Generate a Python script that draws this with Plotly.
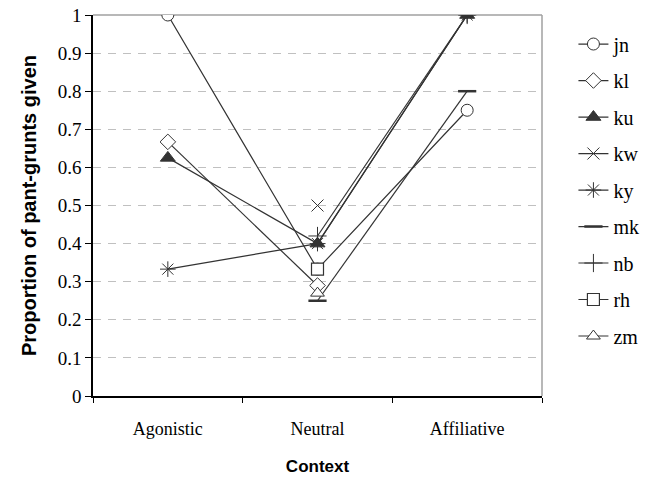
import plotly.graph_objects as go

categories = ["Agonistic", "Neutral", "Affiliative"]
names = ["jn", "kl", "ku", "kw", "ky", "mk", "nb", "rh", "zm"]
jn = [1.0, 0.333, 0.75]
kl = [0.667, 0.29, None]
ku = [0.625, 0.4, 1.0]
kw = [None, 0.5, None]
ky = [0.333, 0.4, 1.0]
mk = [None, 0.25, 0.8]
nb = [None, 0.42, 1.0]
rh = [None, 0.333, None]
zm = [None, 0.27, None]
series = [jn, kl, ku, kw, ky, mk, nb, rh, zm]

ytick_vals = [0, 0.1, 0.2, 0.3, 0.4, 0.5, 0.6, 0.7, 0.8, 0.9, 1]
ytick_text = ["0", "0.1", "0.2", "0.3", "0.4", "0.5", "0.6", "0.7", "0.8", "0.9", "1"]

LINE = "#333333"
markers = {
    "jn": dict(symbol="circle", size=12, color="white", line=dict(color=LINE, width=1)),
    "kl": dict(symbol="diamond", size=12, color="white", line=dict(color=LINE, width=1)),
    "ku": dict(symbol="triangle-up", size=13, color=LINE, line=dict(color=LINE, width=1)),
    "kw": dict(symbol="x-thin", size=12, color=LINE, line=dict(color=LINE, width=1)),
    "ky": dict(symbol="asterisk", size=13, color=LINE, line=dict(color=LINE, width=1)),
    "mk": dict(symbol="line-ew", size=13, color=LINE, line=dict(color=LINE, width=2.5)),
    "nb": dict(symbol="cross-thin", size=13, color=LINE, line=dict(color=LINE, width=1)),
    "rh": dict(symbol="square", size=12, color="white", line=dict(color=LINE, width=1.2)),
    "zm": dict(symbol="triangle-up", size=12, color="white", line=dict(color=LINE, width=1)),
}

fig = go.Figure()
for name, vals in zip(names, series):
    fig.add_trace(go.Scatter(
        x=categories, y=vals, name=name, mode="lines+markers",
        line=dict(color=LINE, width=1.2), marker=markers[name],
        connectgaps=False, legendgroup=name,
    ))

fig.update_layout(
    width=663, height=479,
    margin=dict(l=93, r=121, t=15, b=83),
    paper_bgcolor="white", plot_bgcolor="white",
    font=dict(family="Liberation Serif", color="black"),
    showlegend=True,
    legend=dict(x=1.07, y=0.975, xanchor="left", yanchor="top",
                font=dict(family="Liberation Serif", size=20, color="black"),
                traceorder="grouped", tracegroupgap=7.5,
                bgcolor="rgba(0,0,0,0)", itemwidth=30),
    xaxis=dict(type="category", range=[-0.5, 2.5], tickson="boundaries",
               ticks="outside", ticklen=5, tickcolor="black",
               showline=True, linecolor="black", linewidth=1.5,
               showgrid=False, zeroline=False, ticklabelstandoff=16,
               automargin=False,
               tickfont=dict(family="Liberation Serif", size=18),
               title=dict(text="<b>Context</b>", font=dict(family="Liberation Sans", size=17), standoff=22)),
    yaxis=dict(range=[0, 1], tickvals=ytick_vals, ticktext=ytick_text,
               ticks="outside", ticklen=6, tickcolor="black",
               showline=True, linecolor="black", linewidth=1.5,
               showgrid=True, gridcolor="#c0c0c0", griddash="8px,7px", gridwidth=1,
               zeroline=False, automargin=False,
               tickfont=dict(family="Liberation Serif", size=19),
               title=dict(text="<b>Proportion of pant-grunts given</b>",
                          font=dict(family="Liberation Sans", size=20), standoff=16)),
    shapes=[
        dict(type="line", xref="paper", yref="paper", x0=0, x1=1, y0=1, y1=1,
             line=dict(color="#a0a0a0", width=1.5), layer="below"),
        dict(type="line", xref="paper", yref="paper", x0=1, x1=1, y0=0, y1=1,
             line=dict(color="#a0a0a0", width=1.5), layer="below"),
    ],
)

fig.write_html("out.html")
